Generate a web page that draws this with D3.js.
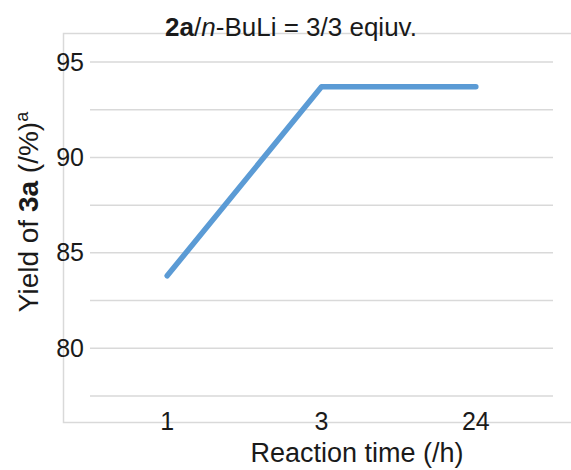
<!DOCTYPE html>
<html>
<head>
<meta charset="utf-8">
<script src="https://cdn.jsdelivr.net/npm/d3@7"></script>
<style>
  body { margin: 0; background: #fff; }
  text { font-family: "Liberation Sans", Arial, sans-serif; fill: #1a1a1a; }
</style>
</head>
<body>
<svg id="chart" width="571" height="470"></svg>
<script>
const categories = ["1", "3", "24"];
const yields = [83.8, 93.7, 93.7];
const yTicks = [80, 85, 90, 95];
const yGrid = [77.5, 80, 82.5, 85, 87.5, 90, 92.5, 95];

const svg = d3.select("#chart");
const plot = { left: 90, right: 553, top: 62, bottom: 396 };

const x = d3.scaleBand().domain(categories).range([plot.left, plot.right]);
const y = d3.scaleLinear().domain([77.5, 95]).range([plot.bottom, plot.top]);

// outer frame
svg.append("rect")
  .attr("x", 63.5).attr("y", 33.5)
  .attr("width", 520).attr("height", 389)
  .attr("fill", "none")
  .attr("stroke", "#d9d9d9")
  .attr("stroke-width", 1.5);

// gridlines
svg.append("g")
  .selectAll("line")
  .data(yGrid)
  .join("line")
  .attr("x1", plot.left).attr("x2", plot.right)
  .attr("y1", (d) => y(d)).attr("y2", (d) => y(d))
  .attr("stroke", "#d9d9d9")
  .attr("stroke-width", 1.5);

// y tick labels
const yAxis = svg.append("g")
  .attr("transform", `translate(${plot.left},0)`)
  .call(d3.axisLeft(y).tickValues(yTicks).tickSize(0).tickPadding(6));
yAxis.select(".domain").remove();
yAxis.selectAll("text")
  .style("font-size", "25px")
  .attr("fill", "#1a1a1a");

// x tick labels
const xAxis = svg.append("g")
  .attr("transform", `translate(0,${plot.bottom})`)
  .call(d3.axisBottom(x).tickSize(0).tickPadding(16));
xAxis.select(".domain").remove();
xAxis.selectAll("text")
  .style("font-size", "25px")
  .attr("fill", "#1a1a1a");

// data line
const line = d3.line()
  .x((d, i) => x(categories[i]) + x.bandwidth() / 2)
  .y((d) => y(d));

svg.append("path")
  .datum(yields)
  .attr("d", line)
  .attr("fill", "none")
  .attr("stroke", "#5b9bd5")
  .attr("stroke-width", 5.5)
  .attr("stroke-linecap", "round")
  .attr("stroke-linejoin", "round");

// title
const title = svg.append("text")
  .attr("x", 291).attr("y", 36)
  .attr("text-anchor", "middle")
  .style("font-size", "26px");
title.append("tspan").attr("font-weight", "bold").text("2a");
title.append("tspan").text("/");
title.append("tspan").attr("font-style", "italic").text("n");
title.append("tspan").text("-BuLi = 3/3 eqiuv.");

// x axis title
svg.append("text")
  .attr("x", 357).attr("y", 462)
  .attr("text-anchor", "middle")
  .style("font-size", "27px")
  .text("Reaction time (/h)");

// y axis title
const yTitle = svg.append("text")
  .attr("transform", "translate(38,212) rotate(-90)")
  .attr("text-anchor", "middle")
  .style("font-size", "28px");
yTitle.append("tspan").text("Yield of ");
yTitle.append("tspan").attr("font-weight", "bold").text("3a");
yTitle.append("tspan").text(" (/%)");
yTitle.append("tspan").attr("dy", -10).style("font-size", "18px").text("a");
</script>
</body>
</html>
